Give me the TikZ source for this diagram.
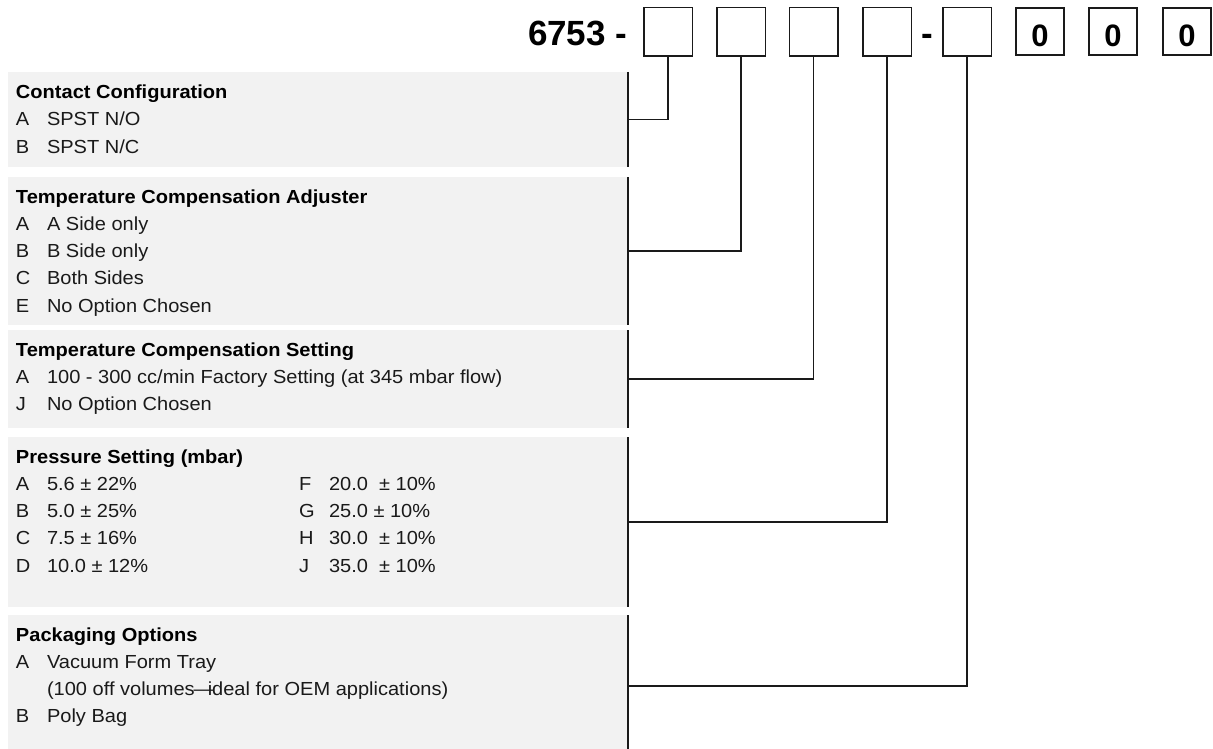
\documentclass[tikz,border=0pt]{standalone}
\usepackage{fontspec}
\setmainfont{Liberation Sans}[FakeStretch=1.06]
\newfontfamily\hdrfont{Liberation Sans}
\usetikzlibrary{calc}
\definecolor{panelgray}{HTML}{F2F2F2}
\definecolor{ink}{HTML}{1A1A1A}
\begin{document}
\begin{tikzpicture}[x=1pt,y=-1pt,
  every node/.style={inner sep=0pt, outer sep=0pt},
  panel/.style={fill=panelgray, anchor=north west, minimum width=620pt},
  edgeline/.style={draw=ink, line width=1.3pt},
  conn/.style={draw=ink, line width=1.3pt},
  digitbox/.style={draw=ink, line width=1.5pt, minimum width=48.5pt, minimum height=48.5pt},
  zerobox/.style={draw=ink, line width=2pt, minimum width=48pt, minimum height=47pt},
  head/.style={font=\hdrfont\bfseries\fontsize{35}{40}\selectfont, text=black, anchor=base west},
  ttl/.style={font=\bfseries\fontsize{18.9}{22}\selectfont, text=black, anchor=base west},
  itm/.style={font=\fontsize{18.9}{22}\selectfont, text=ink, anchor=base west},
  zero/.style={font=\hdrfont\bfseries\fontsize{31}{34}\selectfont, text=black, anchor=base}]
\useasboundingbox (0,0) rectangle (1213,749);

% panels
\node[panel, minimum height=95pt]  (p1) at (8,72)  {};
\node[panel, minimum height=148pt] (p2) at (8,177) {};
\node[panel, minimum height=98pt]  (p3) at (8,330) {};
\node[panel, minimum height=170pt] (p4) at (8,437) {};
\node[panel, minimum height=134pt] (p5) at (8,615) {};
\foreach \p in {p1,p2,p3,p4,p5}
  \draw[edgeline] (\p.north east) -- (\p.south east);

% header
\node[head] (code) at (528,46) {6753 -};
\node[head, anchor=base] (dash2) at (927,46) {-};
\node[digitbox] (b1) at (668,32) {};
\node[digitbox] (b2) at (741,32) {};
\node[digitbox] (b3) at (813.5,32) {};
\node[digitbox] (b4) at (887,32) {};
\node[digitbox] (b5) at (967,32) {};
\node[zerobox] (b6) at (1040,31.5) {};
\node[zerobox] (b7) at (1113,31.5) {};
\node[zerobox] (b8) at (1187,31.5) {};
\path (b6.south) ++(0,-8) node[zero] (z6) {0};
\path (b7.south) ++(0,-8) node[zero] (z7) {0};
\path (b8.south) ++(0,-8) node[zero] (z8) {0};

% connectors
\draw[conn] (b1.south) |- (p1.east);
\draw[conn] (b2.south) |- (p2.east);
\draw[conn] (b3.south) |- (p3.east);
\draw[conn] (b4.south) |- (p4.east);
\draw[conn] (b5.south) |- ([yshift=-4pt]p5.east);

% panel 1
\node[ttl] (t1) at (16,98.5) {Contact Configuration};
\node[itm] (l1a) at (16,126) {A};   \node[itm] (i1a) at (47,126) {SPST N/O};
\node[itm] (l1b) at (16,153.3) {B}; \node[itm] (i1b) at (47,153.3) {SPST N/C};

% panel 2
\node[ttl] (t2) at (16,203) {Temperature Compensation Adjuster};
\node[itm] (l2a) at (16,230.3) {A}; \node[itm] (i2a) at (47,230.3) {A Side only};
\node[itm] (l2b) at (16,257.6) {B}; \node[itm] (i2b) at (47,257.6) {B Side only};
\node[itm] (l2c) at (16,284.9) {C}; \node[itm] (i2c) at (47,284.9) {Both Sides};
\node[itm] (l2e) at (16,312.2) {E}; \node[itm] (i2e) at (47,312.2) {No Option Chosen};

% panel 3
\node[ttl] (t3) at (16,356.5) {Temperature Compensation Setting};
\node[itm] (l3a) at (16,383.8) {A}; \node[itm] (i3a) at (47,383.8) {100 - 300 cc/min Factory Setting (at 345 mbar flow)};
\node[itm] (l3j) at (16,410.5) {J}; \node[itm] (i3j) at (47,410.5) {No Option Chosen};

% panel 4
\node[ttl] (t4) at (16,463) {Pressure Setting (mbar)};
\node[itm] (l4a) at (16,490.3) {A}; \node[itm] (i4a) at (47,490.3) {5.6 ± 22\%};
\node[itm] (l4b) at (16,517.6) {B}; \node[itm] (i4b) at (47,517.6) {5.0 ± 25\%};
\node[itm] (l4c) at (16,544.9) {C}; \node[itm] (i4c) at (47,544.9) {7.5 ± 16\%};
\node[itm] (l4d) at (16,572.2) {D}; \node[itm] (i4d) at (47,572.2) {10.0 ± 12\%};
\node[itm] (l4f) at (299,490.3) {F}; \node[itm] (i4f) at (329,490.3) {20.0~~± 10\%};
\node[itm] (l4g) at (299,517.6) {G}; \node[itm] (i4g) at (329,517.6) {25.0 ± 10\%};
\node[itm] (l4h) at (299,544.9) {H}; \node[itm] (i4h) at (329,544.9) {30.0~~± 10\%};
\node[itm] (l4j) at (299,572.2) {J}; \node[itm] (i4j) at (329,572.2) {35.0~~± 10\%};

% panel 5
\node[ttl] (t5) at (16,641) {Packaging Options};
\node[itm] (l5a) at (16,668.3) {A}; \node[itm] (i5a) at (47,668.3) {Vacuum Form Tray};
\node[itm] (i5a2) at (47,695.6) {(100 off volumes\kern-1pt—\kern-6pt ideal for OEM applications)};
\node[itm] (l5b) at (16,722.9) {B}; \node[itm] (i5b) at (47,722.9) {Poly Bag};
\end{tikzpicture}
\end{document}
